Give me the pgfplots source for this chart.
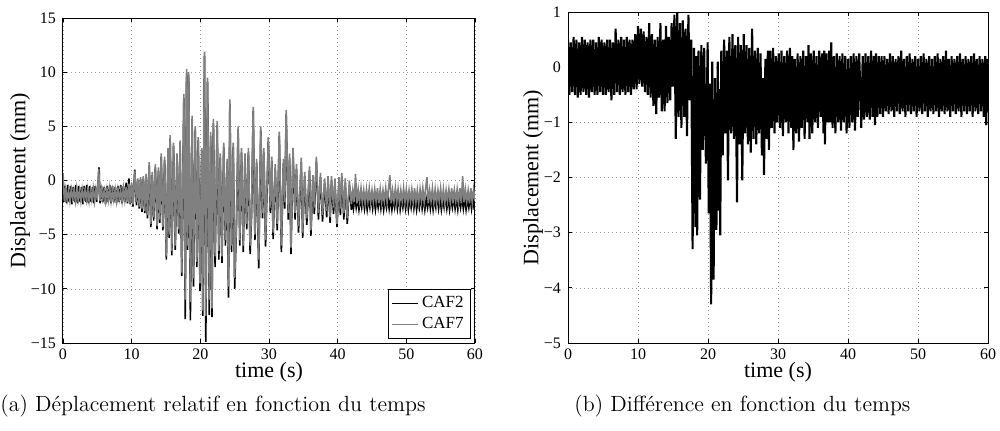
\documentclass[border=0pt]{standalone}
\usepackage{fontspec}
\usepackage{pgfplots}
\usepackage{pgfplotstable}
\pgfplotsset{compat=1.18}
\newfontfamily\tnr{Liberation Serif}
\definecolor{cafgray}{RGB}{128,128,128}

% CAF2 (black)
\pgfplotstableread[row sep=\\]{
t y\\
0 0.4\\ 0.1 -2.0\\ 0.3 -0.5\\ 0.5 -2.1\\ 0.7 -0.4\\ 0.9 -2.0\\ 1.1 -0.5\\ 1.3 -2.2\\ 1.5 -0.6\\ 1.7 -2.0\\
1.9 -0.4\\ 2.1 -2.1\\ 2.3 -0.5\\ 2.5 -2.0\\ 2.7 -0.6\\ 2.9 -2.2\\ 3.1 -0.5\\ 3.3 -2.0\\ 3.5 -0.4\\ 3.7 -2.1\\
3.9 -0.5\\ 4.1 -2.0\\ 4.3 -0.6\\ 4.5 -2.1\\ 4.7 -0.5\\ 4.9 -2.0\\ 5.1 -0.4\\ 5.25 1.2\\ 5.4 -2.1\\ 5.6 -0.5\\
5.8 -2.0\\ 6.0 -0.6\\ 6.2 -2.2\\ 6.4 -0.5\\ 6.6 -2.0\\ 6.8 -0.4\\ 7.0 -2.1\\ 7.2 -0.5\\ 7.4 -2.0\\ 7.6 -0.6\\
7.8 -2.1\\ 8.0 -0.5\\ 8.2 -2.0\\ 8.4 -0.4\\ 8.6 -2.1\\ 8.8 -0.5\\ 9.0 -2.0\\ 9.2 -0.2\\ 9.4 -2.1\\ 9.6 0.2\\ 9.8 -2.2\\
10.0 -0.4\\ 10.2 -2.4\\ 10.45 1.0\\ 10.7 -2.3\\ 10.9 0.0\\ 11.1 -2.6\\ 11.3 0.1\\ 11.5 -2.9\\ 11.7 0.2\\ 11.9 -3.0\\
12.1 0.3\\ 12.3 -3.5\\ 12.55 1.4\\ 12.8 -4.3\\ 13.0 0.5\\ 13.2 -3.7\\ 13.45 1.2\\ 13.7 -4.5\\ 13.9 0.9\\ 14.1 -3.9\\
14.3 2.2\\ 14.55 -4.6\\ 14.8 1.9\\ 15.05 -7.3\\ 15.3 2.7\\ 15.45 -5.3\\ 15.6 3.9\\ 15.85 -6.9\\ 16.1 3.2\\ 16.35 -6.4\\
16.6 2.2\\ 16.85 -4.9\\ 17.05 3.4\\ 17.3 -8.8\\ 17.6 7.6\\ 17.8 -12.8\\ 18.0 9.9\\ 18.15 -6.4\\ 18.3 9.7\\ 18.55 -12.9\\
18.8 5.7\\ 19.0 -9.8\\ 19.25 4.7\\ 19.5 -8.0\\ 19.7 3.7\\ 19.95 -10.2\\ 20.2 2.7\\ 20.35 -12.5\\ 20.6 11.5\\ 20.8 -14.9\\
21.05 9.1\\ 21.3 -12.4\\ 21.5 4.1\\ 21.7 -12.6\\ 21.9 5.3\\ 22.15 -8.0\\ 22.45 5.1\\ 22.7 -7.3\\ 22.9 2.1\\ 23.15 -7.6\\
23.4 3.1\\ 23.65 -6.0\\ 23.9 1.7\\ 24.1 -10.8\\ 24.3 7.1\\ 24.55 -6.6\\ 24.8 3.1\\ 25.0 -10.0\\ 25.25 -4.5\\ 25.5 4.6\\
25.75 -6.0\\ 26.0 2.6\\ 26.25 -6.6\\ 26.5 2.1\\ 26.75 -4.5\\ 27.0 2.6\\ 27.25 -6.8\\ 27.45 -3.4\\ 27.7 6.4\\ 27.95 -5.5\\
28.2 1.6\\ 28.5 -8.1\\ 28.8 4.6\\ 29.05 -3.5\\ 29.25 2.6\\ 29.5 -6.1\\ 29.9 3.6\\ 30.2 -3.0\\ 30.4 1.8\\ 30.6 -5.4\\
30.9 1.1\\ 31.2 -4.6\\ 31.5 4.1\\ 31.8 -6.6\\ 32.1 1.6\\ 32.3 -2.6\\ 32.5 6.1\\ 32.8 -3.6\\ 33.0 2.1\\ 33.2 -6.8\\
33.5 2.6\\ 33.8 -3.6\\ 34.0 1.1\\ 34.3 -4.8\\ 34.7 1.7\\ 34.9 -5.3\\ 35.2 0.4\\ 35.5 -4.1\\ 35.9 0.9\\ 36.1 -5.1\\
36.4 0.1\\ 36.6 -3.1\\ 36.9 1.8\\ 37.2 -3.6\\ 37.5 0.3\\ 37.8 -3.8\\ 38.1 -0.2\\ 38.4 -3.4\\ 38.6 0.0\\ 38.9 -3.9\\
39.1 0.0\\ 39.4 -3.1\\ 39.6 -0.2\\ 39.9 -4.3\\ 40.2 -0.1\\ 40.4 -3.2\\ 40.6 0.3\\ 40.9 -3.6\\ 41.1 -0.2\\ 41.4 -4.0\\
41.7 -0.4\\ 42.0 -2.7\\ 42.1 -1.7\\ 42.3 -2.6\\ 42.5 -1.5\\ 42.7 -2.5\\ 42.9 -1.6\\ 43.1 -2.7\\ 43.3 -1.7\\ 43.5 -2.5\\
43.7 -1.5\\ 43.9 -2.6\\ 44.1 -1.6\\ 44.3 -2.7\\ 44.5 -1.7\\ 44.7 -2.5\\ 44.9 -1.5\\ 45.1 -2.6\\ 45.3 -1.6\\ 45.5 -2.7\\
45.7 -1.7\\ 45.9 -2.5\\ 46.1 -1.5\\ 46.3 -2.6\\ 46.5 -1.6\\ 46.7 -2.7\\ 46.9 -1.7\\ 47.1 -2.5\\ 47.3 -1.5\\ 47.5 -2.6\\
47.7 -1.6\\ 47.9 -2.7\\ 48.1 -1.7\\ 48.3 -2.5\\ 48.5 -1.5\\ 48.7 -2.6\\ 48.9 -1.6\\ 49.1 -2.7\\ 49.3 -1.7\\ 49.5 -2.5\\
49.7 -1.5\\ 49.9 -2.6\\ 50.1 -1.6\\ 50.3 -2.7\\ 50.5 -1.7\\ 50.7 -2.5\\ 50.9 -1.5\\ 51.1 -2.6\\ 51.3 -1.6\\ 51.5 -2.7\\
51.7 -1.7\\ 51.9 -2.5\\ 52.1 -1.5\\ 52.3 -2.6\\ 52.5 -1.6\\ 52.7 -2.7\\ 52.9 -1.7\\ 53.1 -2.5\\ 53.3 -1.5\\ 53.5 -2.6\\
53.7 -1.6\\ 53.9 -2.7\\ 54.1 -1.7\\ 54.3 -2.5\\ 54.5 -1.5\\ 54.7 -2.6\\ 54.9 -1.6\\ 55.1 -2.7\\ 55.3 -1.7\\ 55.5 -2.5\\
55.7 -1.5\\ 55.9 -2.6\\ 56.1 -1.6\\ 56.3 -2.7\\ 56.5 -1.7\\ 56.7 -2.5\\ 56.9 -1.5\\ 57.1 -2.6\\ 57.3 -1.6\\ 57.5 -2.7\\
57.7 -1.7\\ 57.9 -2.5\\ 58.1 -1.5\\ 58.3 -2.6\\ 58.5 -1.6\\ 58.7 -2.7\\ 58.9 -1.7\\ 59.1 -2.5\\ 59.3 -1.5\\ 59.5 -2.6\\
59.7 -1.6\\ 59.9 -2.7\\ 60.0 -1.8\\
}\cafb

% CAF7 (grey)
\pgfplotstableread[row sep=\\]{
t y\\
0 0.7\\ 0.2 -1.9\\ 0.4 -0.8\\ 0.6 -1.8\\ 0.8 -0.9\\ 1.0 -1.9\\ 1.2 -0.8\\ 1.4 -1.7\\ 1.6 -0.9\\ 1.8 -1.9\\
2.0 -0.7\\ 2.2 -1.8\\ 2.4 -0.9\\ 2.6 -1.9\\ 2.8 -0.8\\ 3.0 -1.7\\ 3.2 -0.9\\ 3.4 -1.8\\ 3.6 -0.8\\ 3.8 -1.9\\
4.0 -0.9\\ 4.2 -1.8\\ 4.4 -0.7\\ 4.6 -1.9\\ 4.8 -0.8\\ 5.0 -1.8\\ 5.2 1.1\\ 5.4 -1.9\\ 5.6 -0.8\\ 5.8 -1.7\\
6.0 -0.9\\ 6.2 -1.9\\ 6.4 -0.8\\ 6.6 -1.8\\ 6.8 -0.7\\ 7.0 -1.9\\ 7.2 -0.9\\ 7.4 -1.8\\ 7.6 -0.8\\ 7.8 -1.9\\
8.0 -0.8\\ 8.2 -1.7\\ 8.4 -0.9\\ 8.6 -1.9\\ 8.8 -0.7\\ 9.0 -1.8\\ 9.2 -0.6\\ 9.4 -2.0\\ 9.6 -0.3\\ 9.8 -2.1\\
10.0 -0.2\\ 10.2 -2.2\\ 10.45 0.9\\ 10.7 -2.0\\ 10.9 0.2\\ 11.1 -2.4\\ 11.3 0.3\\ 11.5 -2.6\\ 11.7 0.4\\ 11.9 -2.8\\
12.1 0.6\\ 12.3 -3.2\\ 12.55 1.7\\ 12.8 -4.0\\ 13.0 0.8\\ 13.2 -3.4\\ 13.45 1.5\\ 13.7 -4.2\\ 13.9 1.2\\ 14.1 -3.6\\
14.3 2.5\\ 14.55 -4.3\\ 14.8 2.2\\ 15.05 -7.0\\ 15.3 3.0\\ 15.45 -5.0\\ 15.6 4.2\\ 15.85 -6.5\\ 16.1 3.5\\ 16.35 -6.0\\
16.6 2.5\\ 16.85 -4.5\\ 17.05 3.7\\ 17.3 -8.5\\ 17.6 8.0\\ 17.8 -11.0\\ 18.0 10.3\\ 18.15 -6.0\\ 18.3 10.0\\ 18.55 -11.2\\
18.8 6.0\\ 19.0 -9.0\\ 19.25 5.0\\ 19.5 -7.5\\ 19.7 4.0\\ 19.95 -9.5\\ 20.2 3.0\\ 20.35 -12.0\\ 20.6 11.9\\ 20.8 -12.5\\
21.05 9.5\\ 21.3 -11.0\\ 21.5 4.5\\ 21.7 -11.8\\ 21.9 5.7\\ 22.15 -7.0\\ 22.45 5.5\\ 22.7 -6.5\\ 22.9 2.5\\ 23.15 -7.0\\
23.4 3.5\\ 23.65 -5.5\\ 23.9 2.0\\ 24.1 -9.8\\ 24.3 7.5\\ 24.55 -6.0\\ 24.8 3.5\\ 25.0 -9.0\\ 25.25 -4.0\\ 25.5 5.0\\
25.75 -5.5\\ 26.0 3.0\\ 26.25 -6.0\\ 26.5 2.5\\ 26.75 -4.0\\ 27.0 3.0\\ 27.25 -6.0\\ 27.45 -3.0\\ 27.7 6.8\\ 27.95 -5.0\\
28.2 2.0\\ 28.5 -7.3\\ 28.8 5.0\\ 29.05 -3.0\\ 29.25 3.0\\ 29.5 -5.5\\ 29.9 4.0\\ 30.2 -2.5\\ 30.4 2.2\\ 30.6 -4.8\\
30.9 1.5\\ 31.2 -4.0\\ 31.5 4.5\\ 31.8 -6.0\\ 32.1 2.0\\ 32.3 -2.0\\ 32.5 6.5\\ 32.8 -3.0\\ 33.0 2.5\\ 33.2 -6.2\\
33.5 3.0\\ 33.8 -3.0\\ 34.0 1.5\\ 34.3 -4.2\\ 34.7 2.1\\ 34.9 -4.8\\ 35.2 0.8\\ 35.5 -3.5\\ 35.9 1.3\\ 36.1 -4.6\\
36.4 0.5\\ 36.6 -2.5\\ 36.9 2.2\\ 37.2 -3.0\\ 37.5 0.7\\ 37.8 -3.2\\ 38.1 0.2\\ 38.4 -2.8\\ 38.6 0.4\\ 38.9 -3.4\\
39.1 0.4\\ 39.4 -2.5\\ 39.6 0.2\\ 39.9 -4.0\\ 40.2 0.3\\ 40.4 -2.6\\ 40.6 0.7\\ 40.9 -3.0\\ 41.1 0.2\\ 41.4 -3.5\\
41.7 0.0\\ 42.0 -2.2\\ 42.2 -0.9\\ 42.4 -2.0\\ 42.6 0.6\\ 42.8 -2.1\\ 43.0 -0.8\\ 43.2 -1.9\\ 43.4 -0.7\\ 43.6 -2.0\\
43.8 -0.9\\ 44.0 -2.1\\ 44.2 -0.8\\ 44.4 -1.9\\ 44.6 -0.7\\ 44.8 -2.0\\ 45.0 -0.9\\ 45.2 -2.0\\ 45.4 -0.8\\ 45.6 -1.9\\
45.8 -0.7\\ 46.0 -2.1\\ 46.2 -0.8\\ 46.4 -2.0\\ 46.6 -0.9\\ 46.8 -1.9\\ 47.0 -0.7\\ 47.2 -2.0\\ 47.4 -0.8\\ 47.6 0.5\\
47.8 -2.1\\ 48.0 -0.9\\ 48.2 -1.9\\ 48.4 -0.7\\ 48.6 -2.0\\ 48.8 -0.8\\ 49.0 -2.1\\ 49.2 -0.9\\ 49.4 -1.9\\ 49.6 -0.7\\
49.8 -2.0\\ 50.0 -0.8\\ 50.2 -2.1\\ 50.4 -0.9\\ 50.6 -1.9\\ 50.8 -0.8\\ 51.0 -2.0\\ 51.2 -0.7\\ 51.4 -2.0\\ 51.6 -0.9\\
51.8 -2.1\\ 52.0 -0.8\\ 52.2 -1.9\\ 52.4 -0.7\\ 52.6 -2.0\\ 52.8 -0.8\\ 53.0 0.3\\ 53.2 -2.1\\ 53.4 -0.9\\ 53.6 -1.9\\
53.8 -0.7\\ 54.0 -2.0\\ 54.2 -0.8\\ 54.4 -2.1\\ 54.6 -0.9\\ 54.8 -1.9\\ 55.0 -0.7\\ 55.2 -2.0\\ 55.4 -0.8\\ 55.6 -2.1\\
55.8 -0.9\\ 56.0 -1.9\\ 56.2 -0.8\\ 56.4 -2.0\\ 56.6 -0.7\\ 56.8 -2.1\\ 57.0 -0.9\\ 57.2 -1.9\\ 57.4 -0.8\\ 57.6 -2.0\\
57.8 -0.7\\ 58.0 -2.1\\ 58.2 0.4\\ 58.4 -2.0\\ 58.6 -0.8\\ 58.8 -1.9\\ 59.0 -0.9\\ 59.2 -2.1\\ 59.4 -0.7\\ 59.6 -2.0\\
59.8 -0.8\\ 60.0 -1.9\\
}\cafg

% difference
\pgfplotstableread[row sep=\\]{
t y\\
0 0.5\\ 0.2 -0.5\\ 0.4 0.45\\ 0.6 -0.45\\ 0.8 0.55\\ 1.0 -0.5\\ 1.2 0.5\\ 1.4 -0.55\\ 1.6 0.45\\ 1.8 -0.5\\
2.0 0.55\\ 2.2 -0.45\\ 2.4 0.5\\ 2.6 -0.5\\ 2.8 0.45\\ 3.0 -0.55\\ 3.2 0.5\\ 3.4 -0.45\\ 3.6 0.5\\ 3.8 -0.5\\
4.0 0.45\\ 4.2 -0.5\\ 4.4 0.55\\ 4.6 -0.45\\ 4.8 0.5\\ 5.0 -0.5\\ 5.2 0.45\\ 5.4 -0.5\\ 5.6 0.5\\ 5.8 -0.45\\
6.0 0.5\\ 6.2 -0.6\\ 6.4 0.45\\ 6.6 -0.5\\ 6.8 0.7\\ 7.0 -0.45\\ 7.2 0.5\\ 7.4 -0.5\\ 7.6 0.55\\ 7.8 -0.45\\
8.0 0.5\\ 8.2 -0.5\\ 8.4 0.55\\ 8.6 -0.45\\ 8.8 0.5\\ 9.0 -0.5\\ 9.2 0.5\\ 9.4 -0.4\\ 9.6 0.6\\ 9.8 -0.4\\
10.0 0.75\\ 10.2 -0.3\\ 10.4 0.7\\ 10.6 -0.35\\ 10.8 0.65\\ 11.0 -0.45\\ 11.2 0.55\\ 11.4 -0.5\\ 11.6 0.8\\ 11.8 -0.55\\
12.0 0.6\\ 12.2 -0.7\\ 12.4 0.5\\ 12.6 -0.85\\ 12.8 0.55\\ 13.0 -0.55\\ 13.2 0.8\\ 13.4 -0.8\\ 13.6 0.5\\ 13.8 -0.8\\
14.0 0.75\\ 14.2 -0.65\\ 14.4 0.55\\ 14.6 -0.6\\ 14.8 0.8\\ 15.0 -0.35\\ 15.2 0.95\\ 15.4 -1.3\\ 15.6 1.0\\ 15.8 -0.9\\
16.0 0.8\\ 16.2 -1.1\\ 16.4 0.85\\ 16.6 -0.9\\ 16.8 0.7\\ 17.0 -1.25\\ 17.2 0.95\\ 17.4 -0.6\\ 17.6 0.5\\ 17.8 -3.3\\
18.0 0.35\\ 18.2 -2.9\\ 18.3 0.2\\ 18.45 -3.05\\ 18.65 0.3\\ 18.85 -2.4\\ 19.05 0.4\\ 19.25 -1.5\\ 19.45 0.35\\ 19.7 -1.75\\
19.95 0.45\\ 20.1 -2.65\\ 20.25 -0.3\\ 20.45 -4.3\\ 20.6 0.1\\ 20.8 -3.85\\ 21.0 -0.2\\ 21.2 -2.95\\ 21.4 0.1\\ 21.55 -2.6\\
21.65 -0.4\\ 21.75 -3.05\\ 21.9 0.3\\ 22.1 -1.6\\ 22.3 0.5\\ 22.5 -1.2\\ 22.7 0.3\\ 22.85 -2.05\\ 23.05 0.55\\ 23.3 -1.2\\
23.5 0.6\\ 23.7 -1.3\\ 23.9 0.4\\ 24.15 -2.45\\ 24.3 0.55\\ 24.5 -1.4\\ 24.7 0.4\\ 24.9 -2.05\\ 25.1 0.6\\ 25.3 -1.2\\
25.5 0.4\\ 25.7 -1.4\\ 25.9 0.35\\ 26.1 -1.55\\ 26.3 0.7\\ 26.5 -1.3\\ 26.7 0.3\\ 26.9 -1.4\\ 27.1 0.35\\ 27.3 -1.2\\
27.5 0.25\\ 27.7 -1.6\\ 27.85 -0.2\\ 28.0 -1.95\\ 28.2 0.15\\ 28.4 -1.3\\ 28.55 0.3\\ 28.7 -1.5\\ 28.9 0.3\\ 29.1 -1.1\\
29.3 0.35\\ 29.5 -1.2\\ 29.7 0.2\\ 29.9 -1.0\\ 30.1 0.25\\ 30.3 -1.1\\ 30.5 0.3\\ 30.7 -1.25\\ 30.9 0.2\\ 31.1 -1.0\\
31.3 0.3\\ 31.5 -1.2\\ 31.7 0.35\\ 31.9 -1.1\\ 32.05 0.2\\ 32.2 -1.5\\ 32.4 0.15\\ 32.6 -1.2\\ 32.8 0.25\\ 33.0 -1.35\\
33.2 0.2\\ 33.4 -1.1\\ 33.6 0.3\\ 33.8 -1.3\\ 34.0 0.2\\ 34.2 -1.0\\ 34.35 0.4\\ 34.5 -1.3\\ 34.7 0.25\\ 34.9 -1.2\\
35.1 0.3\\ 35.3 -1.0\\ 35.5 0.2\\ 35.7 -1.1\\ 35.9 0.3\\ 36.1 -0.9\\ 36.3 0.25\\ 36.5 -1.2\\ 36.6 0.3\\ 36.7 -1.4\\
36.9 0.25\\ 37.1 -1.0\\ 37.3 0.3\\ 37.45 -1.0\\ 37.6 0.45\\ 37.8 -1.1\\ 38.0 0.2\\ 38.2 -1.2\\ 38.4 0.25\\ 38.6 -1.0\\
38.8 0.2\\ 39.0 -1.15\\ 39.2 0.25\\ 39.4 -1.0\\ 39.6 0.2\\ 39.8 -1.2\\ 40.0 0.15\\ 40.2 -1.1\\ 40.4 0.2\\ 40.6 -1.0\\
40.8 0.25\\ 41.0 -1.15\\ 41.2 0.2\\ 41.4 -0.9\\ 41.6 0.25\\ 41.9 -1.1\\ 42.1 0.2\\ 42.3 -0.95\\ 42.5 0.25\\ 42.7 -0.9\\
42.9 0.2\\ 43.1 -0.95\\ 43.3 0.3\\ 43.5 -0.9\\ 43.7 0.2\\ 43.85 -1.05\\ 44.0 0.25\\ 44.2 -0.9\\ 44.4 0.2\\ 44.6 -0.85\\
44.8 0.2\\ 45.0 -0.9\\ 45.2 0.2\\ 45.4 -0.8\\ 45.6 0.15\\ 45.8 -0.85\\ 46.0 0.25\\ 46.2 -0.8\\ 46.4 0.2\\ 46.6 -0.9\\
46.8 0.15\\ 47.0 -0.8\\ 47.2 0.2\\ 47.4 -0.85\\ 47.6 0.3\\ 47.8 -0.8\\ 48.0 0.15\\ 48.2 -0.9\\ 48.4 0.2\\ 48.6 -0.8\\
48.8 0.25\\ 49.0 -0.85\\ 49.2 0.15\\ 49.4 -0.8\\ 49.6 0.2\\ 49.8 -0.9\\ 50.0 0.15\\ 50.2 -0.8\\ 50.4 0.2\\ 50.6 -0.85\\
50.8 0.25\\ 51.0 -0.8\\ 51.2 0.15\\ 51.4 -0.9\\ 51.6 0.2\\ 51.8 -0.8\\ 52.0 0.15\\ 52.2 -0.85\\ 52.4 0.2\\ 52.6 -0.8\\
52.8 0.25\\ 53.0 -0.9\\ 53.2 0.15\\ 53.4 -0.8\\ 53.6 0.2\\ 53.8 -0.85\\ 54.0 0.3\\ 54.2 -0.8\\ 54.4 0.15\\ 54.6 -0.9\\
54.8 0.2\\ 55.0 -0.8\\ 55.2 0.15\\ 55.4 -0.85\\ 55.6 0.2\\ 55.8 -0.8\\ 56.0 0.25\\ 56.2 -0.9\\ 56.4 0.15\\ 56.6 -0.8\\
56.8 0.2\\ 57.0 -0.85\\ 57.2 0.15\\ 57.4 -0.8\\ 57.6 0.2\\ 57.8 -0.9\\ 58.0 0.25\\ 58.2 -0.8\\ 58.4 0.15\\ 58.6 -0.85\\
58.8 0.2\\ 59.0 -0.8\\ 59.2 0.15\\ 59.4 -0.9\\ 59.6 0.2\\ 59.75 -1.05\\ 59.9 0.15\\ 60.0 -0.8\\
}\diffdata

\pgfplotsset{
  matlab/.style={
    scale only axis,
    xmin=0, xmax=60,
    xtick={0,10,...,60},
    tick pos=both, tick align=inside,
    major tick length=2pt,
    grid=major,
    major grid style={gray!80, line width=0.3pt, dash pattern=on 0.5pt off 1.5pt},
    axis line style={line width=0.5pt},
    every tick/.style={black, line width=0.4pt},
    ticklabel style={font=\tnr\fontsize{8}{9}\selectfont},
    /pgf/number format/assume math mode=true,
    xticklabel style={anchor=base, yshift=-8pt},
    xlabel={time (s)},
    ylabel={Displacement (mm)},
    label style={font=\tnr\fontsize{11}{12}\selectfont},
    xlabel style={at={(axis description cs:0.5,0)}, anchor=base, yshift=-17pt},
  },
}

\begin{document}
\begin{tikzpicture}
\path[use as bounding box] (0pt,0pt) rectangle (500pt,-215pt);

\begin{axis}[matlab,
  at={(31.5pt,-171.5pt)}, anchor=south west,
  width=206pt, height=162.5pt,
  ymin=-15, ymax=15,
  ytick={-15,-10,...,15},
  yticklabels={−15,−10,−5,0,5,10,15},
  ylabel style={at={(axis description cs:-0.104,0.5)}, anchor=center},
  legend style={at={(axis description cs:1,0)}, anchor=south east,
    xshift=-2pt, yshift=2pt, draw=black, line width=0.4pt,
    font=\tnr\fontsize{8.5}{9.5}\selectfont, inner sep=1.5pt,
    row sep=-0.5pt, cells={anchor=west}},
  legend image code/.code={\draw[#1, line width=0.5pt] (0pt,0pt) -- (13pt,0pt);},
]
\addplot[black, line width=0.8pt] table[x=t, y=y] {\cafb};
\addlegendentry{CAF2}
\addplot[cafgray, line width=0.8pt] table[x=t, y=y] {\cafg};
\addlegendentry{CAF7}
\end{axis}

\begin{axis}[matlab,
  at={(284pt,-171.5pt)}, anchor=south west,
  width=210pt, height=165.5pt,
  ymin=-5, ymax=1,
  ytick={-5,-4,...,1},
  yticklabels={−5,−4,−3,−2,−1,0,1},
  ylabel style={at={(axis description cs:-0.083,0.5)}, anchor=center},
]
\addplot[black, line width=1.05pt] table[x=t, y=y] {\diffdata};
\end{axis}

\node[anchor=base west, inner sep=0pt, font=\fontsize{11}{13}\selectfont]
  at (0pt,-205.5pt) {(a) Déplacement relatif en fonction du temps};
\node[anchor=base west, inner sep=0pt, font=\fontsize{11}{13}\selectfont]
  at (287pt,-205.5pt) {(b) Différence en fonction du temps};
\end{tikzpicture}
\end{document}
